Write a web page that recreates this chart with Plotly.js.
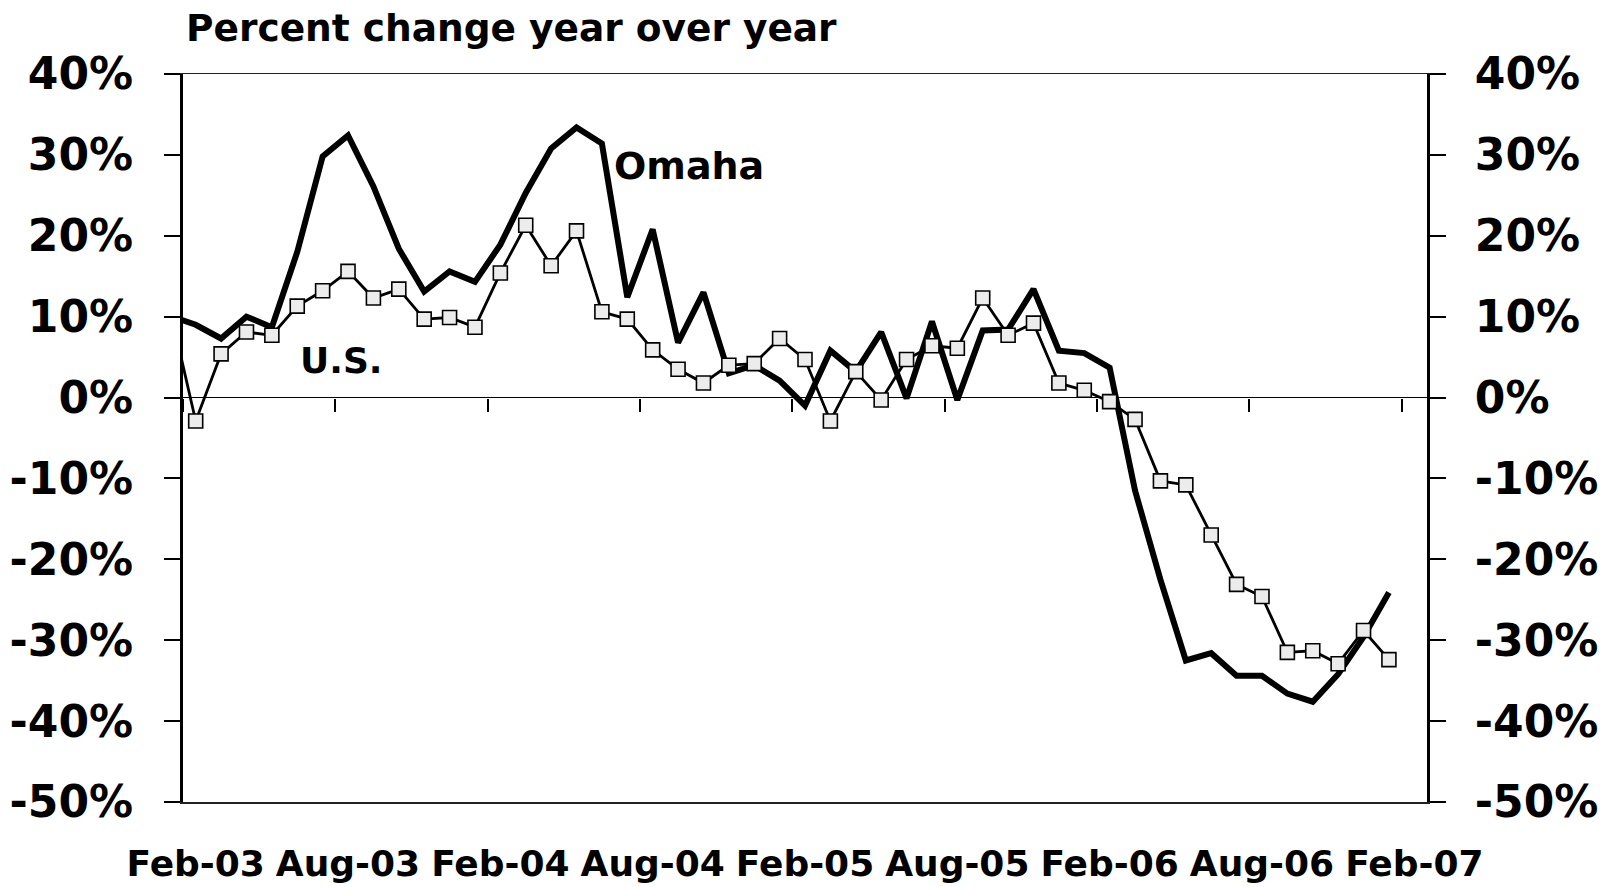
<!DOCTYPE html>
<html>
<head>
<meta charset="utf-8">
<script src="https://cdn.plot.ly/plotly-3.0.1.min.js"></script>
<style>
  html, body { margin: 0; padding: 0; background: #ffffff; }
  #chart { width: 1608px; height: 887px; }
</style>
</head>
<body>
<div id="chart"></div>
<script>
// Month positions: index 0 = Feb-03 ... index 48 = Feb-07; index -1 = Jan-03
const monthIndex = [-1,0,1,2,3,4,5,6,7,8,9,10,11,12,13,14,15,16,17,18,19,20,21,22,23,24,25,26,27,28,29,30,31,32,33,34,35,36,37,38,39,40,41,42,43,44,45,46,47];

// Percent change year over year
const omaha = [10.1, 9.0, 7.3, 10.0, 8.7, 18.0, 29.8, 32.4, 26.1, 18.4, 13.1, 15.6, 14.3, 18.9, 25.3, 30.8, 33.4, 31.4, 12.4, 20.8, 6.8, 13.0, 3.0, 4.0, 2.1, -1.0, 5.8, 3.2, 8.1, -0.1, 9.4, -0.3, 8.3, 8.4, 13.4, 5.8, 5.5, 3.7, -11.5, -22.5, -32.5, -31.6, -34.4, -34.4, -36.6, -37.6, -34.2, -29.6, -24.1];
const us = [10.8, -2.9, 5.4, 8.1, 7.7, 11.3, 13.2, 15.6, 12.3, 13.4, 9.7, 9.9, 8.7, 15.4, 21.3, 16.3, 20.6, 10.6, 9.7, 5.9, 3.5, 1.8, 4.0, 4.2, 7.3, 4.7, -2.9, 3.2, -0.3, 4.7, 6.4, 6.1, 12.3, 7.7, 9.2, 1.8, 0.9, -0.5, -2.7, -10.3, -10.8, -17.0, -23.1, -24.6, -31.5, -31.3, -32.9, -28.8, -32.4];

const tickLabels = ['Feb-03','Aug-03','Feb-04','Aug-04','Feb-05','Aug-05','Feb-06','Aug-06','Feb-07'];
const tickPositions = [0, 6, 12, 18, 24, 30, 36, 42, 48];
const boundaryTicks = [-0.5, 5.5, 11.5, 17.5, 23.5, 29.5, 35.5, 41.5, 47.5];

const yTickValues = [-50, -40, -30, -20, -10, 0, 10, 20, 30, 40];
const yTickLabels = ['-50%', '-40%', '-30%', '-20%', '-10%', '0%', '10%', '20%', '30%', '40%'];

const FONT = 'DejaVu Sans, Verdana, sans-serif';

const traces = [
  {
    x: monthIndex, y: omaha, name: 'Omaha', type: 'scatter', mode: 'lines',
    line: { color: '#000000', width: 6 },
    hoverinfo: 'skip', showlegend: false
  },
  {
    x: monthIndex, y: us, name: 'U.S.', type: 'scatter', mode: 'lines+markers',
    line: { color: '#000000', width: 2.8 },
    marker: { symbol: 'square', size: 14, color: '#ececec', line: { color: '#000000', width: 1.6 } },
    hoverinfo: 'skip', showlegend: false
  },
  { x: [null], y: [null], xaxis: 'x2', yaxis: 'y', showlegend: false, hoverinfo: 'skip', type: 'scatter', mode: 'lines' },
  { x: [null], y: [null], xaxis: 'x', yaxis: 'y2', showlegend: false, hoverinfo: 'skip', type: 'scatter', mode: 'lines' }
];

const yCommon = {
  range: [-50, 40],
  tickmode: 'array', tickvals: yTickValues, ticktext: yTickLabels,
  ticks: 'outside', ticklen: 16, tickwidth: 2, tickcolor: '#000000',
  showline: true, linewidth: 3, linecolor: '#000000',
  showgrid: false,
  tickfont: { family: FONT, size: 44, color: '#000000', weight: 'bold' },
  fixedrange: true
};

const layout = {
  width: 1608, height: 887,
  paper_bgcolor: '#ffffff', plot_bgcolor: '#ffffff',
  margin: { l: 183, r: 181, t: 74, b: 85, pad: 0 },
  showlegend: false,
  title: {
    text: 'Percent change year over year',
    font: { family: FONT, size: 37.5, color: '#000000', weight: 'bold' },
    x: 186 / 1608, xanchor: 'left', xref: 'container',
    y: 1 - 28 / 887, yanchor: 'middle', yref: 'container'
  },
  xaxis: {
    range: [-0.5, 48.5],
    tickmode: 'array', tickvals: tickPositions, ticktext: tickLabels,
    ticks: 'outside', ticklen: 29, tickcolor: 'rgba(0,0,0,0)',
    showline: true, mirror: true, linewidth: 1.5, linecolor: '#222222',
    showgrid: false, zeroline: false,
    tickfont: { family: FONT, size: 36, color: '#000000', weight: 'bold' },
    fixedrange: true
  },
  xaxis2: {
    overlaying: 'x', anchor: 'free', position: 5 / 9, side: 'bottom',
    range: [-0.5, 48.5],
    tickmode: 'array', tickvals: boundaryTicks,
    ticks: 'outside', ticklen: 13, tickwidth: 2, tickcolor: '#000000',
    showticklabels: false, showline: false, showgrid: false, zeroline: false,
    fixedrange: true
  },
  yaxis: Object.assign({}, yCommon, {
    side: 'left',
    zeroline: true, zerolinewidth: 1.8, zerolinecolor: '#000000',
    ticklabelstandoff: 22
  }),
  yaxis2: Object.assign({}, yCommon, {
    side: 'right', overlaying: 'y', anchor: 'x',
    zeroline: false,
    ticklabelstandoff: 20
  }),
  annotations: [
    {
      text: 'Omaha', x: 19.45, y: 28.6, xref: 'x', yref: 'y',
      showarrow: false, xanchor: 'center', yanchor: 'middle',
      font: { family: FONT, size: 38, color: '#000000', weight: 'bold' }
    },
    {
      text: 'U.S.', x: 5.74, y: 4.6, xref: 'x', yref: 'y',
      showarrow: false, xanchor: 'center', yanchor: 'middle',
      font: { family: FONT, size: 36, color: '#000000', weight: 'bold' }
    }
  ]
};

Plotly.newPlot('chart', traces, layout, { displayModeBar: false, staticPlot: true });
</script>
</body>
</html>
